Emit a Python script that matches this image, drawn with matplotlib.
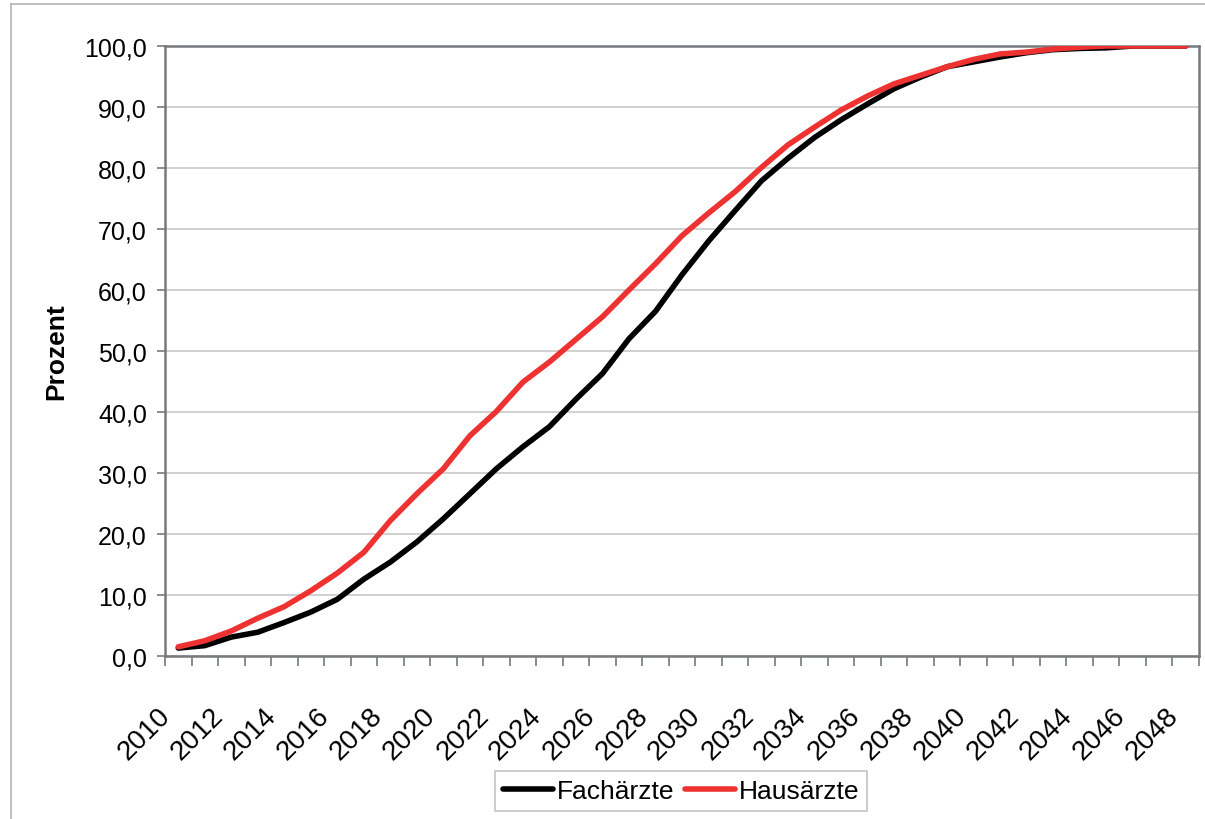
import numpy as np
import matplotlib
matplotlib.use("Agg")
import matplotlib.pyplot as plt
from matplotlib.lines import Line2D
from matplotlib.transforms import offset_copy

plt.rcParams["font.family"] = ["Liberation Sans", "DejaVu Sans"]

years = list(range(2010, 2049))

# share in percent, one value per year 2010..2048
fachaerzte = [1.3, 1.7, 3.1, 3.9, 5.5, 7.2, 9.3, 12.6, 15.4, 18.7,
              22.5, 26.6, 30.7, 34.3, 37.6, 42.1, 46.3, 52.0, 56.5, 62.5,
              68.0, 73.0, 77.9, 81.6, 85.0, 87.9, 90.5, 93.0, 94.9, 96.6,
              97.4, 98.2, 98.9, 99.4, 99.6, 99.7, 100.0, 100.0, 100.0]
hausaerzte = [1.5, 2.5, 4.1, 6.2, 8.1, 10.7, 13.6, 17.0, 22.2, 26.6,
              30.7, 36.1, 40.1, 44.9, 48.2, 51.9, 55.6, 60.0, 64.3, 68.9,
              72.6, 76.1, 80.1, 83.8, 86.7, 89.5, 91.8, 93.8, 95.2, 96.6,
              97.8, 98.7, 99.0, 99.5, 99.8, 100.0, 100.0, 100.0, 100.0]

series_names = ["Fachärzte", "Hausärzte"]
series_colors = ["#000000", "#ee3131"]

axis_grey = "#767a7d"
grid_grey = "#c8c8c8"
lw_series = 4.0

fig = plt.figure(figsize=(12.05, 8.2), dpi=100)
ax = fig.add_axes([165 / 1205, 1 - 657 / 820, 1034 / 1205, 610 / 820])

x = np.arange(len(years))
for vals, name, col in zip([fachaerzte, hausaerzte], series_names, series_colors):
    ax.plot(x, vals, color=col, lw=lw_series, label=name,
            solid_joinstyle="round", solid_capstyle="round", zorder=3)

ax.set_xlim(-0.5, len(years) - 0.5)
ax.set_ylim(0, 100)

# y axis: ticks every 10, German decimal comma
yt = np.arange(0, 101, 10)
ax.set_yticks(yt)
ax.set_yticklabels([f"{v:.1f}".replace(".", ",") for v in yt], fontsize=18)
ax.tick_params(axis="y", length=6, width=1.2, color=axis_grey, pad=7)
ax.yaxis.grid(True, color=grid_grey, lw=1.2)
ax.set_axisbelow(True)

# x axis: tick marks between categories, labels every second year
ax.set_xticks(np.arange(-0.5, len(years), 1.0))
ax.set_xticklabels([])
ax.tick_params(axis="x", length=7, width=1.2, color=axis_grey)
label_trans = offset_copy(ax.get_xaxis_transform(), fig=fig, x=-15, y=-33, units="points")
for xi, yr in zip(x[::2], years[::2]):
    ax.text(xi, 0, str(yr), transform=label_trans, fontsize=20, rotation=45,
            ha="right", va="top", rotation_mode="anchor", clip_on=False)

for sp in ax.spines.values():
    sp.set_color(axis_grey)
    sp.set_linewidth(1.8)

ax.set_ylabel("Prozent", fontsize=19, fontweight="bold", va="center")
ax.yaxis.set_label_coords(-0.105, 0.5)

handles = [Line2D([], [], color=c, lw=lw_series, solid_capstyle="round") for c in series_colors]
leg = fig.legend(handles, series_names, loc="center",
                 bbox_to_anchor=(681 / 1205, 1 - 792 / 820), ncol=2,
                 fontsize=19, fancybox=False, frameon=True,
                 handlelength=1.9, handletextpad=0.15, columnspacing=0.4,
                 borderpad=0.3, borderaxespad=0)
leg.get_frame().set_edgecolor("#b4b4b4")
leg.get_frame().set_linewidth(1.2)

# thin outer frame of the chart area
fig.add_artist(Line2D([11 / 1205, 11 / 1205], [0, 1 - 5 / 820],
                      transform=fig.transFigure, color="#b4b4b4", lw=1.2))
fig.add_artist(Line2D([11 / 1205, 1], [1 - 5 / 820, 1 - 5 / 820],
                      transform=fig.transFigure, color="#b4b4b4", lw=1.2))

fig.savefig("out.png", dpi=100)
